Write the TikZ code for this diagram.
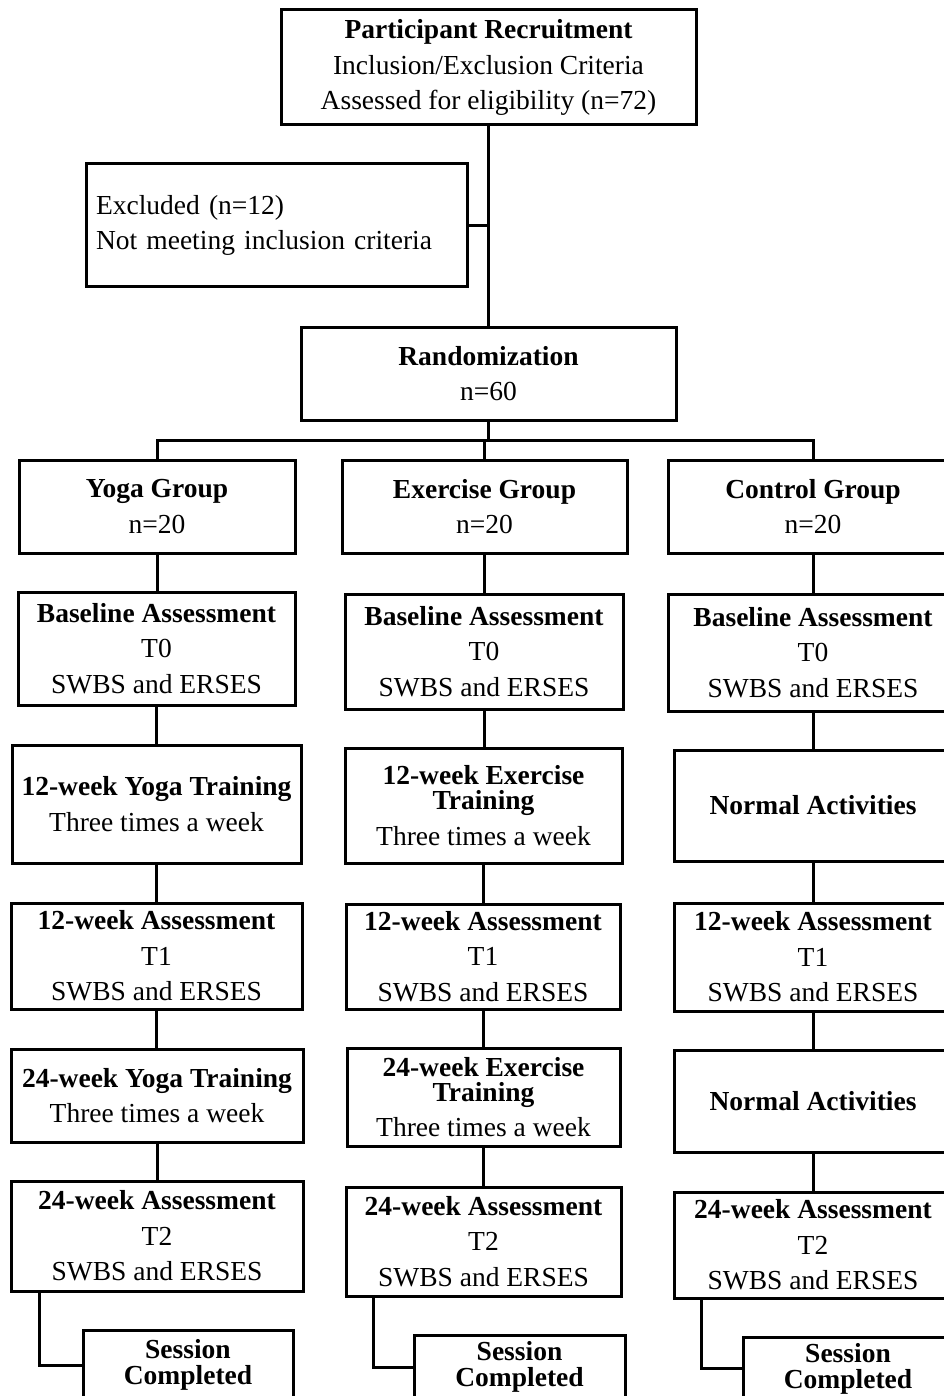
\documentclass[tikz,border=0pt]{standalone}
\usepackage{fontspec}
\setmainfont{Liberation Serif}
\begin{document}
\begin{tikzpicture}[x=1pt,y=-1pt,
  box/.style={draw=black, line width=3pt, rectangle, align=center, inner sep=2pt,
    font=\fontsize{27.5}{35.5}\selectfont},
  link/.style={draw=black, line width=3pt}]
\useasboundingbox (0,0) rectangle (944,1396);
\fill[white] (0,0) rectangle (944,1396);
\clip (0,0) rectangle (944,1396);
% top part
\node[box, minimum width=415pt, minimum height=115pt] (top) at (488.5,67.5)
  {\textbf{Participant Recruitment}\\Inclusion/Exclusion Criteria\\Assessed for eligibility (n=72)};
\node[box, minimum width=381pt, minimum height=123pt, align=left, inner xsep=10pt, text width=361pt] (excl) at (276.5,225.5)
  {Excluded (n=12)\\Not meeting inclusion criteria};
\node[box, minimum width=375pt, minimum height=93pt] (rand) at (488.5,373.5)
  {\textbf{Randomization}\\n=60};
% groups
\node[box, minimum width=276pt, minimum height=93pt] (yogaG) at (157,506.5) {\textbf{Yoga Group}\\n=20};
\node[box, minimum width=285pt, minimum height=93pt] (exG) at (484.5,506.5) {\textbf{Exercise Group}\\n=20};
\node[box, minimum width=290pt, minimum height=93pt] (ctG) at (813,506.5) {\textbf{Control Group}\\n=20};
% baseline
\node[box, minimum width=277pt, minimum height=113pt] (yogaB) at (156.5,648.5) {\textbf{Baseline Assessment}\\T0\\SWBS and ERSES};
\node[box, minimum width=278pt, minimum height=115pt] (exB) at (484,651.5) {\textbf{Baseline Assessment}\\T0\\SWBS and ERSES};
\node[box, minimum width=290pt, minimum height=117pt] (ctB) at (813,652.5) {\textbf{Baseline Assessment}\\T0\\SWBS and ERSES};
% 12-week training
\node[box, minimum width=289pt, minimum height=118pt] (yogaT1) at (156.5,804) {\textbf{12-week Yoga Training}\\Three times a week};
\node[box, minimum width=277pt, minimum height=115pt] (exT1) at (483.5,805.5) {\textbf{12-week Exercise}\\[-10.5pt]\textbf{Training}\\Three times a week};
\node[box, minimum width=278pt, minimum height=111pt] (ctT1) at (813,805.5) {\textbf{Normal Activities}};
% 12-week assessment
\node[box, minimum width=291pt, minimum height=106pt] (yogaA1) at (156.5,956) {\textbf{12-week Assessment}\\T1\\SWBS and ERSES};
\node[box, minimum width=274pt, minimum height=105pt] (exA1) at (483,956.5) {\textbf{12-week Assessment}\\T1\\SWBS and ERSES};
\node[box, minimum width=278pt, minimum height=108pt] (ctA1) at (813,957) {\textbf{12-week Assessment}\\T1\\SWBS and ERSES};
% 24-week training
\node[box, minimum width=292pt, minimum height=93pt] (yogaT2) at (157,1095.5) {\textbf{24-week Yoga Training}\\Three times a week};
\node[box, minimum width=273pt, minimum height=98pt] (exT2) at (483.5,1097) {\textbf{24-week Exercise}\\[-10.5pt]\textbf{Training}\\Three times a week};
\node[box, minimum width=278pt, minimum height=102pt] (ctT2) at (813,1101) {\textbf{Normal Activities}};
% 24-week assessment
\node[box, minimum width=292pt, minimum height=110pt] (yogaA2) at (157,1236) {\textbf{24-week Assessment}\\T2\\SWBS and ERSES};
\node[box, minimum width=275pt, minimum height=109pt] (exA2) at (483.5,1241.5) {\textbf{24-week Assessment}\\T2\\SWBS and ERSES};
\node[box, minimum width=278pt, minimum height=106pt] (ctA2) at (813,1245) {\textbf{24-week Assessment}\\T2\\SWBS and ERSES};
% session completed
\node[box, minimum width=210pt, minimum height=70pt] (yogaS) at (188,1365) {\textbf{Session}\\[-9.5pt]\textbf{Completed}};
\node[box, minimum width=211pt, minimum height=64pt] (exS) at (519.5,1367) {\textbf{Session}\\[-9.5pt]\textbf{Completed}};
\node[box, minimum width=210pt, minimum height=63pt] (ctS) at (848,1368.5) {\textbf{Session}\\[-9.5pt]\textbf{Completed}};
% connectors
\coordinate (bar) at (488.5,440);
\draw[link] (top.south) -- (rand.north);
\draw[link] (excl.east) -- (excl.east -| top.south);
\draw[link] (rand.south) -- (bar);
\draw[link] (yogaG.north) |- (ctG.north |- bar) -- (ctG.north);
\draw[link] (exG.north) -- (exG.north |- bar);
\foreach \a/\b in {yogaG/yogaB, yogaB/yogaT1, yogaT1/yogaA1, yogaA1/yogaT2, yogaT2/yogaA2,
                   exG/exB, exB/exT1, exT1/exA1, exA1/exT2, exT2/exA2,
                   ctG/ctB, ctB/ctT1, ctT1/ctA1, ctA1/ctT2, ctT2/ctA2}
  \draw[link] (\a.south) -- (\a.south |- \b.north);
\draw[link] ([xshift=30pt]yogaA2.south west) |- (yogaS.west);
\draw[link] ([xshift=29pt]exA2.south west) |- (exS.west);
\draw[link] ([xshift=29pt]ctA2.south west) |- (ctS.west);
\end{tikzpicture}
\end{document}
